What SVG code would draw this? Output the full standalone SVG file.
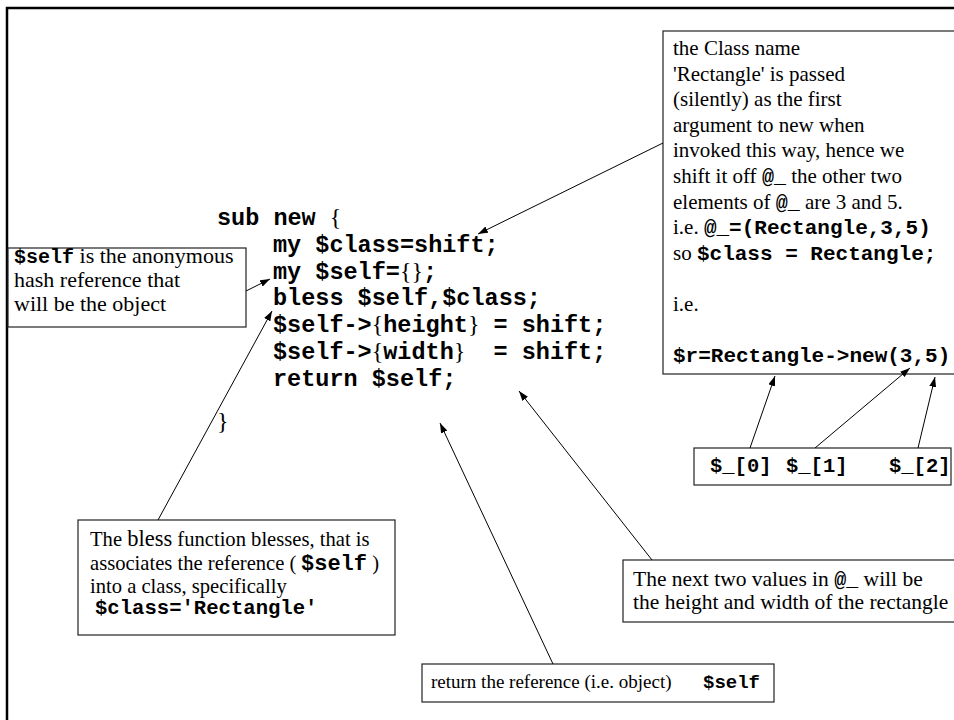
<svg xmlns="http://www.w3.org/2000/svg" width="954" height="720" viewBox="0 0 954 720">
<defs>
<marker id="ah" markerUnits="userSpaceOnUse" markerWidth="10" markerHeight="7" refX="10" refY="3.5" orient="auto">
<path d="M0,0 L10,3.5 L0,7 z" fill="#000"/>
</marker>
<style>
.s{font-family:"Liberation Serif","Times New Roman",serif;fill:#000}
.m{font-family:"Liberation Mono","Courier New",monospace;font-weight:bold}
.code{font-family:"Liberation Mono","Courier New",monospace;font-weight:bold;font-size:23.5px;fill:#000;white-space:pre}
.br{font-family:"Liberation Serif","Times New Roman",serif;font-weight:normal;font-size:24px}
.box{fill:#fff;stroke:#222;stroke-width:1.2}
.ln{fill:none;stroke:#000;stroke-width:1;marker-end:url(#ah)}
</style>
</defs>
<rect width="954" height="720" fill="#fff"/>
<path d="M7,720 V8 H954" fill="none" stroke="#000" stroke-width="2.5"/>

<g id="code">
<text class="code" x="217" y="225">sub new <tspan class="br">{</tspan></text>
<text class="code" x="273" y="252">my $class=shift;</text>
<text class="code" x="273" y="279">my $self=<tspan class="br">{}</tspan>;</text>
<text class="code" x="273" y="305">bless $self,$class;</text>
<text class="code" x="273" y="332">$self-&gt;<tspan class="br">{</tspan>height<tspan class="br">}</tspan> = shift;</text>
<text class="code" x="273" y="359">$self-&gt;<tspan class="br">{</tspan>width<tspan class="br">}</tspan>  = shift;</text>
<text class="code" x="273" y="386">return $self;</text>
<text class="code" x="217" y="429"><tspan class="br" font-size="28">}</tspan></text>
</g>

<g id="classnote">
<rect class="box" x="663" y="31" width="320" height="343"/>
<text class="s" font-size="21" x="673" y="55">the Class name</text>
<text class="s" font-size="21" x="673" y="80.6">'Rectangle' is passed</text>
<text class="s" font-size="21" x="673" y="106.2">(silently) as the first</text>
<text class="s" font-size="21" x="673" y="131.8">argument to new when</text>
<text class="s" font-size="21" x="673" y="157.4">invoked this way, hence we</text>
<text class="s" font-size="21" x="673" y="183">shift it off <tspan class="m" font-size="20">@_</tspan> the other two</text>
<text class="s" font-size="21" x="673" y="208.6">elements of <tspan class="m" font-size="20">@_</tspan> are 3 and 5.</text>
<text class="s" font-size="21" x="673" y="234.2">i.e. <tspan class="m">@_=(Rectangle,3,5)</tspan></text>
<text class="s" font-size="21" x="673" y="259.8">so <tspan class="m">$class = Rectangle;</tspan></text>
<text class="s" font-size="21" x="673" y="311">i.e.</text>
<text class="s m" font-size="21" x="673" y="362">$r=Rectangle-&gt;new(3,5)</text>
</g>

<g id="selfnote">
<rect class="box" x="8" y="248" width="238" height="79"/>
<text class="s" font-size="22" x="14" y="263"><tspan class="m" font-size="20">$self</tspan> is the anonymous</text>
<text class="s" font-size="22" x="14" y="287">hash reference that</text>
<text class="s" font-size="22" x="14" y="311">will be the object</text>
</g>

<g id="blessnote">
<rect class="box" x="78" y="520" width="317" height="115"/>
<text class="s" font-size="20.6" x="90" y="546">The <tspan font-size="22.5">bless</tspan> function blesses, that is</text>
<text class="s" font-size="20.6" x="90" y="570">associates the reference (<tspan class="m" font-size="22" x="301">$self</tspan> )</text>
<text class="s" font-size="20.6" x="90" y="593">into a class, specifically</text>
<text class="s m" font-size="20.6" x="95" y="614">$class='Rectangle'</text>
</g>

<g id="returnnote">
<rect class="box" x="422" y="664" width="352" height="38"/>
<text class="s" font-size="19" x="431" y="688">return the reference (i.e. object)<tspan class="m" x="703">$self</tspan></text>
</g>

<g id="nextnote">
<rect class="box" x="623" y="560" width="360" height="62"/>
<text class="s" font-size="21.5" x="633" y="586">The next two values in <tspan class="m" font-size="20">@_</tspan> will be</text>
<text class="s" font-size="21.5" x="633" y="609">the height and width of the rectangle</text>
</g>

<g id="argsnote">
<rect class="box" x="694" y="448" width="257" height="37"/>
<text class="m" font-size="20.5" x="710" y="472">$_[0]</text>
<text class="m" font-size="20.5" x="786" y="472">$_[1]</text>
<text class="m" font-size="20.5" x="889" y="472">$_[2]</text>
</g>

<g id="connectors">
<line class="ln" x1="663" y1="143" x2="478" y2="234"/>
<line class="ln" x1="246" y1="291" x2="270" y2="279"/>
<line class="ln" x1="158" y1="520" x2="272" y2="311"/>
<line class="ln" x1="553" y1="664" x2="440" y2="423"/>
<line class="ln" x1="652" y1="560" x2="519" y2="391"/>
<line class="ln" x1="750" y1="448" x2="775" y2="376"/>
<line class="ln" x1="815" y1="448" x2="910" y2="368"/>
<line class="ln" x1="918" y1="448" x2="935" y2="377"/>
</g>
</svg>
